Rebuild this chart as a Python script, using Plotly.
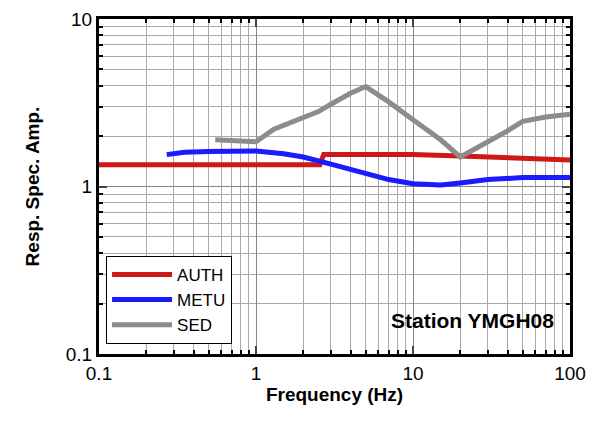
import plotly.graph_objects as go

auth_f = [0.1, 0.5, 1, 2, 2.55, 2.7, 3, 5, 10, 20, 50, 100]
auth_a = [1.35, 1.35, 1.35, 1.35, 1.35, 1.55, 1.55, 1.55, 1.55, 1.52, 1.47, 1.44]
metu_f = [0.27, 0.35, 0.5, 0.7, 1, 1.5, 2, 3, 4, 5, 7, 10, 15, 20, 30, 50, 100]
metu_a = [1.55, 1.6, 1.62, 1.63, 1.63, 1.57, 1.5, 1.36, 1.27, 1.2, 1.1, 1.04, 1.02, 1.05, 1.1, 1.13, 1.13]
sed_f = [0.55, 0.7, 1, 1.3, 2, 2.5, 3, 4, 5, 7, 10, 15, 20, 25, 30, 40, 50, 70, 100]
sed_a = [1.9, 1.87, 1.85, 2.2, 2.6, 2.8, 3.1, 3.6, 3.95, 3.2, 2.5, 1.9, 1.5, 1.7, 1.85, 2.15, 2.45, 2.6, 2.7]

x_minor = [m * 10**e for e in (-1, 0, 1) for m in range(2, 10)]
y_minor = [m * 10**e for e in (-1, 0) for m in range(2, 10)]

fig = go.Figure()
fig.add_trace(go.Scatter(x=auth_f, y=auth_a, name="AUTH", mode="lines", line=dict(color="#d01818", width=5)))
fig.add_trace(go.Scatter(x=metu_f, y=metu_a, name="METU", mode="lines", line=dict(color="#1a1aff", width=5)))
fig.add_trace(go.Scatter(x=sed_f, y=sed_a, name="SED", mode="lines", line=dict(color="#8c8c8c", width=5)))

ax = dict(type="log", showline=True, linewidth=3, linecolor="black", mirror="ticks",
          ticks="inside", ticklen=8, tickwidth=2, gridcolor="#888", gridwidth=1,
          tickfont=dict(size=19, color="black"), zeroline=False, automargin=False)
mn = dict(showgrid=True, gridcolor="#aaa", gridwidth=1, ticks="inside", ticklen=4,
          tickcolor="black", tickwidth=1.5, tickmode="array")
fig.update_xaxes(**ax, range=[-1, 2], tickvals=[0.1, 1, 10, 100], ticktext=["0.1", "1", "10", "100"],
                 minor=dict(**mn, tickvals=x_minor),
                 title=dict(text="<b>Frequency (Hz)</b>", font=dict(size=19, color="black"), standoff=0))
fig.update_yaxes(**ax, range=[-1, 1], tickvals=[0.1, 1, 10], ticktext=["0.1", "1", "10"],
                 minor=dict(**mn, tickvals=y_minor),
                 title=dict(text="<b>Resp. Spec. Amp.</b>", font=dict(size=19, color="black"), standoff=22))
fig.add_annotation(x=0.97, y=0.1, xref="paper", yref="paper", xanchor="right", yanchor="middle",
                   text="<b>Station YMGH08</b>", showarrow=False, font=dict(size=21, color="black"))
fig.update_layout(width=599, height=435, plot_bgcolor="white", paper_bgcolor="white",
                  font=dict(family="Liberation Sans, Arial"),
                  margin=dict(l=91, r=37, t=11, b=89),
                  legend=dict(x=0.015, y=0.03, xanchor="left", yanchor="bottom", bgcolor="white",
                              bordercolor="black", borderwidth=1, font=dict(size=17, color="black"),
                              itemwidth=60, tracegroupgap=4))
fig.write_html("out.html")
